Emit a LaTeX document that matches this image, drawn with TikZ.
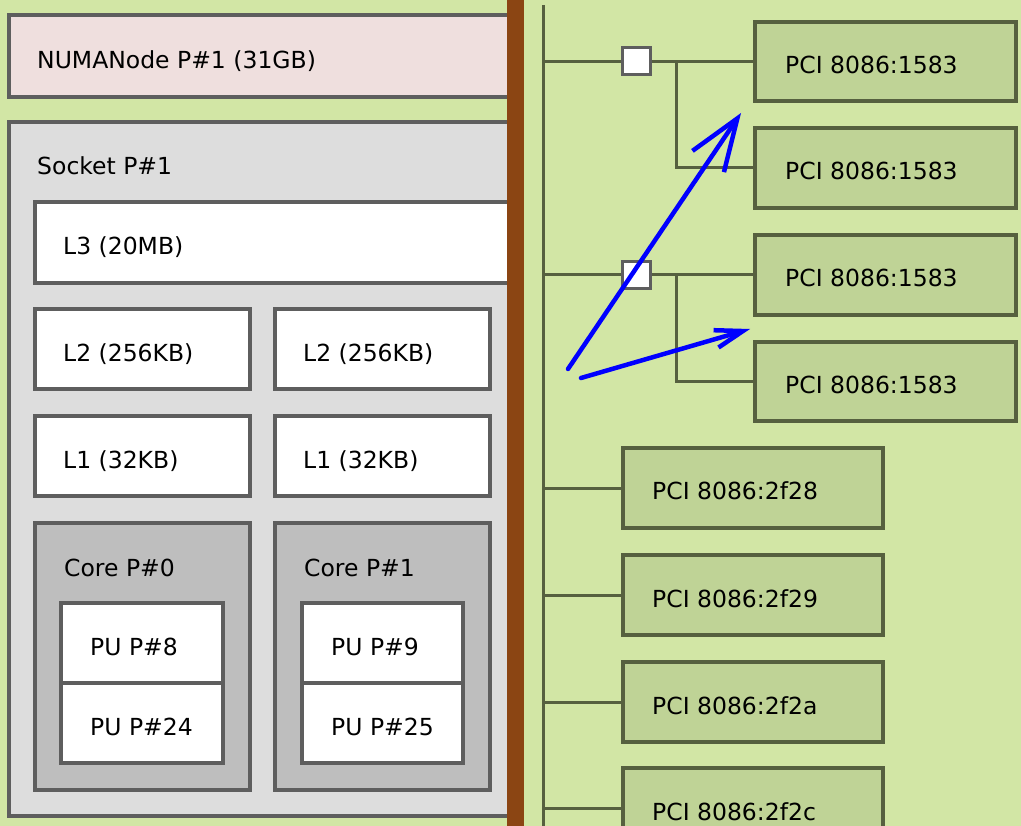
\documentclass[tikz,border=0pt]{standalone}
\usepackage{fontspec}
\setmainfont{DejaVu Sans}
\usetikzlibrary{arrows.meta}
\definecolor{bggreen}{HTML}{D2E6A5}
\definecolor{pcifill}{HTML}{BFD396}
\definecolor{pciborder}{HTML}{56603F}
\definecolor{numafill}{HTML}{EFDFDE}
\definecolor{sockfill}{HTML}{DDDDDD}
\definecolor{corefill}{HTML}{BEBEBE}
\definecolor{boxborder}{HTML}{5E5E5E}
\definecolor{brownbar}{HTML}{8B4513}
\definecolor{arrowblue}{HTML}{0000FF}
\tikzset{
  box/.style={draw=boxborder, line width=3.2pt, anchor=north west, inner sep=0pt, outer sep=0pt},
  numabox/.style={box, fill=numafill},
  sockbox/.style={box, fill=sockfill},
  cachebox/.style={box, fill=white},
  corebox/.style={box, fill=corefill},
  pubox/.style={box, fill=white},
  pcibox/.style={box, draw=pciborder, fill=pcifill},
  bridgebox/.style={draw=boxborder, line width=3pt, fill=white, minimum width=28pt, minimum height=27pt, inner sep=0pt},
  lbl/.style={anchor=base west, inner sep=0pt, font=\fontsize{23.5}{27}\selectfont, text=black},
  conn/.style={draw=pciborder, line width=3pt},
  bluearrow/.style={draw=arrowblue, line width=4.5pt, line cap=round},
}
\begin{document}
\begin{tikzpicture}[x=1pt,y=-1pt]
\useasboundingbox (0,0) rectangle (1021,826);
\clip (0,0) rectangle (1021,826);
\fill[bggreen] (0,0) rectangle (1021,826);

% NUMA node
\node[numabox, minimum width=508pt, minimum height=82pt] (numa) at (9,15) {};
\node[lbl] (numa-t) at ([xshift=28pt,yshift=-12.5pt]numa.west) {NUMANode P\#1 (31GB)};

% Socket
\node[sockbox, minimum width=508pt, minimum height=694pt] (sock) at (9,122) {};
\node[lbl] (sock-t) at ([xshift=28pt,yshift=-53pt]sock.north west) {Socket P\#1};

% L3
\node[cachebox, minimum width=480pt, minimum height=81pt] (l3) at (35,202) {};
\node[lbl] (l3-t) at ([xshift=28pt,yshift=-12.5pt]l3.west) {L3 (20MB)};

% L2
\node[cachebox, minimum width=215pt, minimum height=80pt] (l2a) at (35,309) {};
\node[lbl] (l2a-t) at ([xshift=28pt,yshift=-12.5pt]l2a.west) {L2 (256KB)};
\node[cachebox, minimum width=215pt, minimum height=80pt] (l2b) at (275,309) {};
\node[lbl] (l2b-t) at ([xshift=28pt,yshift=-12.5pt]l2b.west) {L2 (256KB)};

% L1
\node[cachebox, minimum width=215pt, minimum height=80pt] (l1a) at (35,416) {};
\node[lbl] (l1a-t) at ([xshift=28pt,yshift=-12.5pt]l1a.west) {L1 (32KB)};
\node[cachebox, minimum width=215pt, minimum height=80pt] (l1b) at (275,416) {};
\node[lbl] (l1b-t) at ([xshift=28pt,yshift=-12.5pt]l1b.west) {L1 (32KB)};

% Cores
\node[corebox, minimum width=215pt, minimum height=267pt] (core0) at (35,523) {};
\node[lbl] (core0-t) at ([xshift=29pt,yshift=-53pt]core0.north west) {Core P\#0};
\node[corebox, minimum width=215pt, minimum height=267pt] (core1) at (275,523) {};
\node[lbl] (core1-t) at ([xshift=29pt,yshift=-53pt]core1.north west) {Core P\#1};

% PUs
\node[pubox, minimum width=162pt, minimum height=80pt] (pu8) at (61,603) {};
\node[lbl] (pu8-t) at ([xshift=29pt,yshift=-12.5pt]pu8.west) {PU P\#8};
\node[pubox, minimum width=162pt, minimum height=80pt] (pu24) at (61,683) {};
\node[lbl] (pu24-t) at ([xshift=29pt,yshift=-12.5pt]pu24.west) {PU P\#24};
\node[pubox, minimum width=161pt, minimum height=80pt] (pu9) at (302,603) {};
\node[lbl] (pu9-t) at ([xshift=29pt,yshift=-12.5pt]pu9.west) {PU P\#9};
\node[pubox, minimum width=161pt, minimum height=80pt] (pu25) at (302,683) {};
\node[lbl] (pu25-t) at ([xshift=29pt,yshift=-12.5pt]pu25.west) {PU P\#25};

% Brown separator
\node[fill=brownbar, minimum width=17pt, minimum height=826pt, anchor=north west, inner sep=0pt, outer sep=0pt] (bar) at (507,0) {};

% PCI bus
\coordinate (bustop) at (543,5);
\coordinate (busbot) at (543,826);
\draw[conn] (bustop) -- (busbot);

% PCI devices behind bridges
\node[pcibox, minimum width=261pt, minimum height=79pt] (pci1) at (755,22) {};
\node[lbl] (pci1-t) at ([xshift=30pt,yshift=-12pt]pci1.west) {PCI 8086:1583};
\node[pcibox, minimum width=261pt, minimum height=80pt] (pci2) at (755,128) {};
\node[lbl] (pci2-t) at ([xshift=30pt,yshift=-12pt]pci2.west) {PCI 8086:1583};
\node[pcibox, minimum width=261pt, minimum height=80pt] (pci3) at (755,235) {};
\node[lbl] (pci3-t) at ([xshift=30pt,yshift=-12pt]pci3.west) {PCI 8086:1583};
\node[pcibox, minimum width=261pt, minimum height=79pt] (pci4) at (755,342) {};
\node[lbl] (pci4-t) at ([xshift=30pt,yshift=-12pt]pci4.west) {PCI 8086:1583};

% Other PCI devices
\node[pcibox, minimum width=260pt, minimum height=80pt] (pci5) at (623,448) {};
\node[lbl] (pci5-t) at ([xshift=29pt,yshift=-12pt]pci5.west) {PCI 8086:2f28};
\node[pcibox, minimum width=260pt, minimum height=80pt] (pci6) at (623,555) {};
\node[lbl] (pci6-t) at ([xshift=29pt,yshift=-12pt]pci6.west) {PCI 8086:2f29};
\node[pcibox, minimum width=260pt, minimum height=80pt] (pci7) at (623,662) {};
\node[lbl] (pci7-t) at ([xshift=29pt,yshift=-12pt]pci7.west) {PCI 8086:2f2a};
\node[pcibox, minimum width=260pt, minimum height=80pt] (pci8) at (623,768) {};
\node[lbl] (pci8-t) at ([xshift=29pt,yshift=-12pt]pci8.west) {PCI 8086:2f2c};

% Bridges
\node[bridgebox] (sq1) at (636.5,61.5) {};
\node[bridgebox] (sq2) at (636.5,275) {};
\coordinate (j1) at (676,61.5);
\coordinate (j2) at (676,275);

% Connectors
\draw[conn] (sq1.west -| bustop) -- (sq1.west);
\draw[conn] (sq1.east) -- (pci1.west);
\draw[conn] (j1) |- (pci2.west);
\draw[conn] (sq2.west -| bustop) -- (sq2.west);
\draw[conn] (sq2.east) -- (pci3.west);
\draw[conn] (j2) |- (pci4.west);
\draw[conn] (pci5.west -| bustop) -- (pci5.west);
\draw[conn] (pci6.west -| bustop) -- (pci6.west);
\draw[conn] (pci7.west -| bustop) -- (pci7.west);
\draw[conn] (pci8.west -| bustop) -- (pci8.west);

% Blue arrows
\coordinate (a1s) at (568,369);
\coordinate (a1e) at (741,113);
\coordinate (a2s) at (581,378);
\coordinate (a2e) at (750,329);
\draw[bluearrow, -{Straight Barb[length=52pt,width=38pt,line width=4.5pt]}] (a1s) -- (a1e);
\draw[bluearrow, -{Straight Barb[length=28pt,width=18pt,line width=4.5pt]}] (a2s) -- (a2e);
\end{tikzpicture}
\end{document}
